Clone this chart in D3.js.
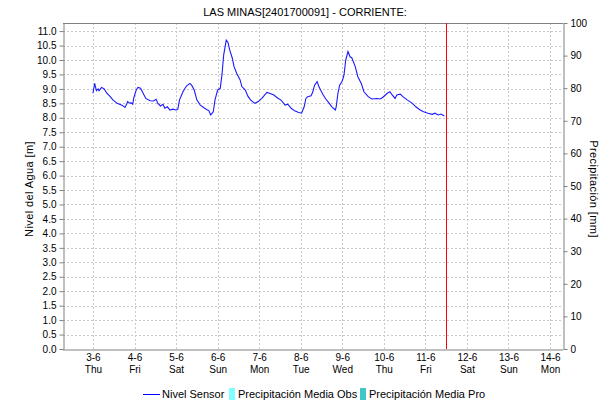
<!DOCTYPE html>
<meta charset="utf-8">
<style>
body { margin: 0; background: #fff; }
svg { font-family: "Liberation Sans", Arial, sans-serif; }
.grid line { stroke: #c8c8c8; stroke-dasharray: 2,2; }
.axis text { font-size: 10px; fill: #000; }
.axis path, .axis line { stroke: #808080; }
</style>
<title>LAS MINAS</title>
<body>
<svg width="610" height="405"></svg>
<script src="https://d3js.org/d3.v7.min.js"></script>
<script>

// hours since 2021-06-03 00:00
var horas = [0, 1, 2, 3, 3.5, 5, 6.5, 8, 10, 11.5, 14, 17, 18.5, 19.5, 20, 21.5, 22, 23, 23.5, 25, 26, 27.5,
  29, 30.5, 33, 35, 36.5, 37.5, 39, 40.5, 41.5, 43, 44.5, 46, 48, 49, 50, 52, 54, 56, 57, 58.5, 60, 62, 64.5,
  67, 68, 69.5, 70.5, 72, 73.5, 74.5, 75.5, 77, 78, 79, 80.5, 81.5, 83, 85, 86, 88, 89.5, 91, 93.5, 95.5,
  97.5, 100.5, 102, 104.5, 107, 108.5, 111, 112.5, 114.5, 116.5, 118.5, 120.5, 122, 123, 124, 126, 127,
  128, 129.5, 130.5, 131.5, 133, 134.5, 136.5, 138, 140, 140.5, 141.5, 142.5, 144, 145, 146, 147.3, 148.5,
  149.5, 151.5, 153, 155, 156.5, 159, 161, 164, 166, 167.5, 170, 171.5, 172.5, 174.5, 175.5, 177.5, 179,
  181.5, 184.5, 186.5, 189, 191, 193.5, 196, 197.5, 199.5, 201, 203];
var nivel = [8.85, 9.19, 8.94, 9.0, 8.94, 9.05, 9.0, 8.85, 8.73, 8.62, 8.5, 8.43, 8.36, 8.48, 8.56, 8.5, 8.52,
  8.47, 8.67, 8.96, 9.05, 9.02, 8.85, 8.67, 8.59, 8.58, 8.64, 8.5, 8.41, 8.47, 8.33, 8.38, 8.27, 8.3, 8.27,
  8.29, 8.62, 8.9, 9.1, 9.19, 9.13, 8.96, 8.62, 8.44, 8.33, 8.24, 8.1, 8.21, 8.62, 8.96, 9.02, 9.48, 10.17,
  10.69, 10.61, 10.35, 10.06, 9.77, 9.54, 9.31, 9.08, 8.96, 8.75, 8.62, 8.5, 8.56, 8.67, 8.88, 8.85, 8.79,
  8.67, 8.62, 8.44, 8.47, 8.33, 8.24, 8.19, 8.16, 8.38, 8.67, 8.73, 8.76, 8.9, 9.13, 9.25, 9.08, 8.96, 8.79,
  8.65, 8.5, 8.38, 8.27, 8.38, 8.85, 9.13, 9.27, 9.48, 10.0, 10.29, 10.11, 10.08, 9.77, 9.42, 9.19, 8.9,
  8.73, 8.65, 8.67, 8.65, 8.71, 8.85, 8.9, 8.82, 8.67, 8.79, 8.82, 8.73, 8.62, 8.5, 8.38, 8.27, 8.21, 8.16,
  8.12, 8.16, 8.1, 8.13, 8.06];

var dias = ["3-6", "4-6", "5-6", "6-6", "7-6", "8-6", "9-6", "10-6", "11-6", "12-6", "13-6", "14-6"];
var diasSemana = ["Thu", "Fri", "Sat", "Sun", "Mon", "Tue", "Wed", "Thu", "Fri", "Sat", "Sun", "Mon"];
var ahora = 204; // hours, red marker
var nivelTicks = d3.range(0, 11.01, 0.5);
var precipTicks = d3.range(0, 101, 10);
var leyenda = ["Nivel Sensor", "Precipitación Media Obs", "Precipitación Media Pro"];

var svg = d3.select("svg");
var pLeft = 63, pRight = 563, pTop = 23, pBottom = 349;

var t0 = new Date(2021, 5, 3);
function h2d(h) { return new Date(t0.getTime() + h * 3600000); }

var x = d3.scaleTime()
    .domain([h2d(-17.3), h2d(271.5)])
    .range([pLeft, pRight]);
var y = d3.scaleLinear().domain([0, 11.28]).range([pBottom, pTop]);
var y2 = d3.scaleLinear().domain([0, 100]).range([pBottom, pTop]);

var dayDates = dias.map(function(d, i) { return h2d(24 * i); });

// grid
var grid = svg.append("g").attr("class", "grid");
grid.selectAll(".h").data(nivelTicks.slice(1)).enter().append("line")
    .attr("x1", pLeft).attr("x2", pRight)
    .attr("y1", function(d) { return Math.round(y(d)) + 0.5; })
    .attr("y2", function(d) { return Math.round(y(d)) + 0.5; });
grid.selectAll(".v").data(dayDates).enter().append("line")
    .attr("y1", pTop).attr("y2", pBottom)
    .attr("x1", function(d) { return Math.round(x(d)) + 0.5; })
    .attr("x2", function(d) { return Math.round(x(d)) + 0.5; });

// frame
svg.append("line").attr("x1", pLeft).attr("x2", pRight).attr("y1", pTop + 0.5).attr("y2", pTop + 0.5)
    .attr("stroke", "#808080");

// left axis
svg.append("g").attr("class", "axis")
    .attr("transform", "translate(" + (pLeft + 0.5) + ",0)")
    .call(d3.axisLeft(y).tickValues(nivelTicks).tickFormat(d3.format(".1f")).tickSize(4).tickSizeOuter(0));

// right axis
svg.append("g").attr("class", "axis")
    .attr("transform", "translate(" + (pRight + 0.5) + ",0)")
    .call(d3.axisRight(y2).tickValues(precipTicks).tickSize(4).tickSizeOuter(0));

// bottom axis
var xa = svg.append("g").attr("class", "axis")
    .attr("transform", "translate(0," + (pBottom + 0.5) + ")")
    .call(d3.axisBottom(x).tickValues(dayDates).tickSize(0).tickPadding(4)
      .tickFormat(function(d, i) { return dias[i]; }));
xa.select(".domain").attr("stroke", "#333").attr("stroke-width", 2).attr("stroke-dasharray", "1,1");
xa.selectAll(".tick text").each(function(d, i) {
  d3.select(this).append("tspan").attr("x", 0).attr("dy", "1.25em").text(diasSemana[i]);
});

// line
var line = d3.line()
    .x(function(d) { return x(h2d(d)); })
    .y(function(d, i) { return y(nivel[i]); });
svg.append("path")
    .datum(horas)
    .attr("fill", "none")
    .attr("stroke", "#1a1aff")
    .attr("stroke-width", 1.1)
    .attr("d", line);

// now marker
svg.append("line")
    .attr("x1", Math.round(x(h2d(ahora))) + 0.5).attr("x2", Math.round(x(h2d(ahora))) + 0.5)
    .attr("y1", pTop).attr("y2", pBottom)
    .attr("stroke", "#ff0000").attr("stroke-width", 1);

// title
svg.append("text").attr("x", 305).attr("y", 16).attr("text-anchor", "middle")
    .attr("font-size", 11).text("LAS MINAS[2401700091] - CORRIENTE:");

// axis titles
svg.append("text").attr("transform", "translate(33,189) rotate(-90)")
    .attr("text-anchor", "middle").attr("font-size", 11).attr("letter-spacing", 0.4)
    .text("Nivel del Agua [m]");
svg.append("text").attr("transform", "translate(590,189) rotate(90)")
    .attr("text-anchor", "middle").attr("font-size", 11).attr("letter-spacing", 0.4)
    .text("Precipitación [mm]");

// legend
var lg = svg.append("g").attr("font-size", 11);
lg.append("line").attr("x1", 143).attr("x2", 160).attr("y1", 394.5).attr("y2", 394.5).attr("stroke", "#0000ff");
lg.append("text").attr("x", 162).attr("y", 398).text(leyenda[0]);
lg.append("rect").attr("x", 229).attr("y", 388).attr("width", 6).attr("height", 12).attr("fill", "#7fffff");
lg.append("text").attr("x", 238).attr("y", 398).text(leyenda[1]);
lg.append("rect").attr("x", 360).attr("y", 388).attr("width", 6).attr("height", 12).attr("fill", "#40c8c8");
lg.append("text").attr("x", 369).attr("y", 398).text(leyenda[2]);

</script>
